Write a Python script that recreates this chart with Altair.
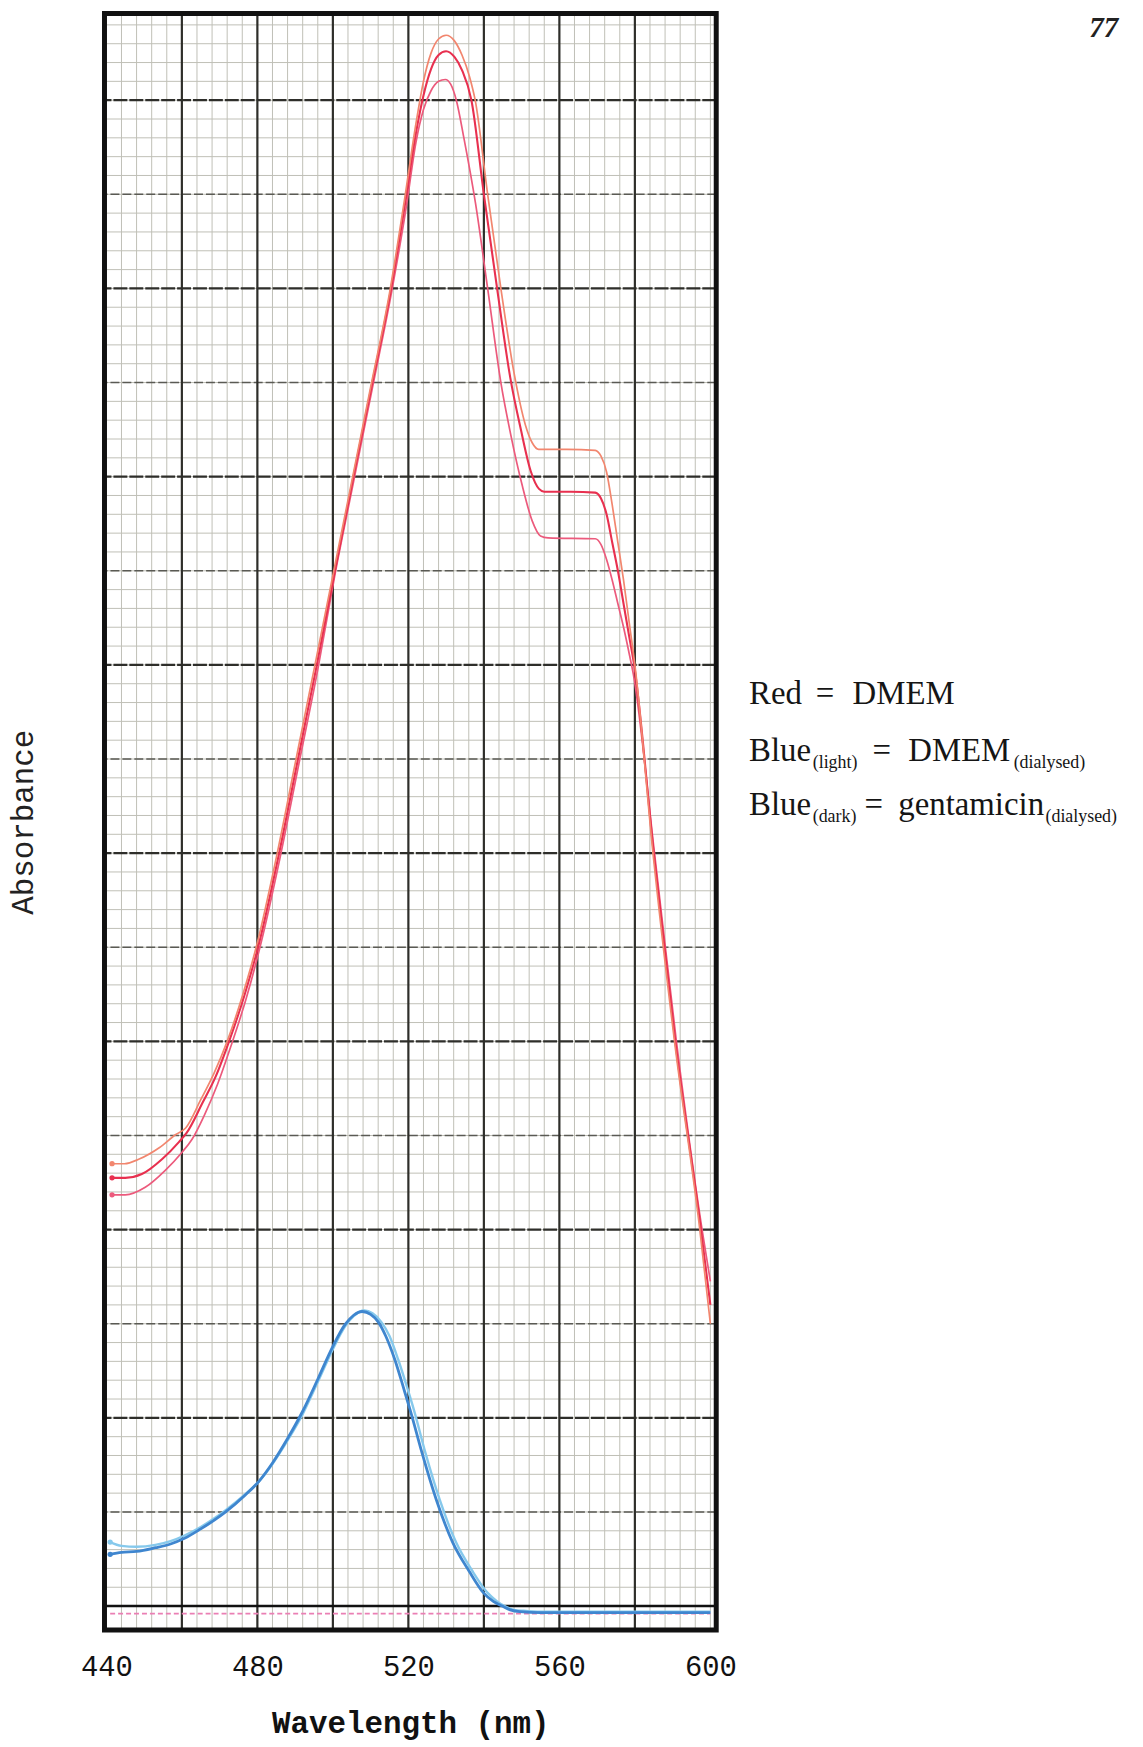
import altair as alt
import numpy as np
import pandas as pd

# ---------------- data ----------------
# Red = DMEM (three traces)
red_top_nm = [441.5, 444.8, 448.7, 454.0, 458.4, 461.0, 465.0, 468.5, 472.0, 476.0, 480.0, 485.0,
              490.0, 495.0, 500.0, 505.0, 510.0, 515.0, 519.0, 522.0, 524.0, 526.0, 528.0, 530.0,
              532.2, 534.2, 536.2, 537.7, 541.0, 544.5, 548.0, 551.0, 552.8, 554.5, 562.0, 569.5,
              571.0, 572.5, 574.0, 575.5, 577.0, 578.5, 580.0, 584.8, 590.5, 597.2, 600.0]
red_top_abs = [0.470, 0.470, 0.475, 0.487, 0.501, 0.508, 0.538, 0.566, 0.600, 0.648, 0.705, 0.795,
               0.895, 0.995, 1.095, 1.195, 1.295, 1.395, 1.495, 1.575, 1.620, 1.650, 1.665, 1.669,
               1.663, 1.648, 1.625, 1.600, 1.500, 1.400, 1.310, 1.255, 1.236, 1.229, 1.229, 1.228,
               1.222, 1.205, 1.170, 1.130, 1.090, 1.045, 1.000, 0.800, 0.600, 0.400, 0.300]

red_mid_nm = [441.5, 445.0, 449.4, 454.8, 459.2, 461.3, 465.5, 469.0, 472.5, 476.5, 480.5, 485.5,
              490.5, 495.5, 500.3, 505.2, 510.2, 515.2, 519.2, 522.0, 524.0, 526.0, 528.0, 530.0,
              532.2, 534.2, 536.7, 540.0, 543.5, 547.0, 549.8, 552.4, 554.6, 556.0, 563.0, 569.5,
              571.0, 572.5, 574.0, 575.5, 577.0, 578.5, 579.8, 585.0, 590.7, 597.5, 600.0]
red_mid_abs = [0.455, 0.455, 0.459, 0.475, 0.493, 0.503, 0.535, 0.563, 0.600, 0.648, 0.705, 0.795,
               0.895, 0.995, 1.095, 1.195, 1.295, 1.395, 1.492, 1.565, 1.605, 1.633, 1.648, 1.652,
               1.646, 1.632, 1.600, 1.500, 1.400, 1.305, 1.250, 1.206, 1.187, 1.184, 1.184, 1.183,
               1.177, 1.160, 1.130, 1.100, 1.065, 1.030, 1.000, 0.800, 0.600, 0.400, 0.320]

red_low_nm = [441.5, 445.0, 450.3, 455.6, 460.0, 462.7, 466.0, 469.5, 473.0, 477.0, 481.0, 486.0,
              491.0, 496.0, 500.5, 505.5, 510.5, 515.5, 519.5, 522.0, 524.0, 526.0, 528.0, 529.8,
              531.2, 532.7, 534.7, 537.8, 541.0, 544.5, 547.1, 550.2, 552.8, 555.0, 557.0, 569.5,
              571.0, 572.5, 574.0, 575.5, 577.0, 578.6, 579.6, 585.2, 591.0, 597.8, 600.0]
red_low_abs = [0.437, 0.437, 0.445, 0.463, 0.482, 0.496, 0.522, 0.555, 0.595, 0.645, 0.705, 0.795,
               0.895, 0.995, 1.095, 1.195, 1.295, 1.395, 1.488, 1.555, 1.590, 1.610, 1.620, 1.622,
               1.617, 1.600, 1.560, 1.490, 1.400, 1.300, 1.245, 1.190, 1.153, 1.137, 1.135, 1.134,
               1.128, 1.112, 1.090, 1.065, 1.040, 1.010, 0.990, 0.800, 0.600, 0.400, 0.345]

# Blue (dark) = gentamicin (dialysed)
blue_dark_nm = [441.0, 444.0, 448.0, 453.0, 457.0, 460.7, 465.0, 468.5, 471.6, 476.8, 480.3, 484.0,
                488.0, 492.0, 496.0, 500.0, 503.2, 505.5, 507.8, 510.0, 512.0, 514.0, 516.4, 519.0,
                520.5, 523.6, 527.4, 531.7, 536.1, 539.9, 542.5, 544.9, 547.0, 549.5, 555.0, 570.0,
                585.0, 600.0]
blue_dark_abs = [0.055, 0.057, 0.058, 0.062, 0.066, 0.072, 0.082, 0.091, 0.100, 0.118, 0.132, 0.152,
                 0.178, 0.207, 0.241, 0.276, 0.299, 0.309, 0.313, 0.310, 0.302, 0.287, 0.262, 0.228,
                 0.208, 0.163, 0.113, 0.068, 0.037, 0.014, 0.005, 0.000, -0.004, -0.006, -0.007, -0.007,
                 -0.007, -0.007]

# Blue (light) = DMEM (dialysed)
blue_light_nm = [441.0, 444.0, 448.0, 453.0, 457.0, 460.7, 465.0, 468.5, 471.6, 476.8, 480.3, 484.0,
                 488.0, 492.0, 496.0, 500.0, 503.2, 505.5, 508.3, 510.5, 512.8, 515.0, 517.3, 520.0,
                 521.5, 524.5, 528.3, 532.6, 537.0, 541.0, 543.5, 545.5, 548.0, 550.5, 555.0, 570.0,
                 585.0, 600.0]
blue_light_abs = [0.068, 0.064, 0.063, 0.065, 0.069, 0.075, 0.084, 0.093, 0.102, 0.119, 0.132, 0.151,
                  0.176, 0.204, 0.238, 0.273, 0.297, 0.308, 0.314, 0.311, 0.302, 0.287, 0.262, 0.228,
                  0.208, 0.163, 0.113, 0.068, 0.037, 0.014, 0.005, 0.000, -0.004, -0.005, -0.006, -0.006,
                  -0.006, -0.006]

# pen baseline trace
pink_base_nm = [441.0, 600.0]
pink_base_abs = [-0.008, -0.008]

x_ticks = [440, 480, 520, 560, 600]

# chart-paper grid
grid_fine_x = [float(v) for v in np.arange(440, 601, 4)]
grid_major_x = [460, 480, 500, 520, 540, 560, 580]
grid_fine_y = [round(float(v), 3) for v in np.arange(0.0, 1.69, 0.02)]
grid_mid_y = [0.1, 0.3, 0.5, 0.7, 0.9, 1.1, 1.3, 1.5]
grid_major_y = [0.2, 0.4, 0.6, 0.8, 1.0, 1.2, 1.4, 1.6]
grid_zero_y = [0.0]

# ---------------- chart ----------------
W, H = 615, 1625
xs = alt.Scale(domain=[439.5, 601.55], nice=False, zero=False)
ys = alt.Scale(domain=[-0.0254, 1.692], nice=False, zero=False)

x_axis = alt.Axis(values=x_ticks, grid=False, ticks=False, domain=False, labelFlush=False,
                  labelFont="Liberation Mono", labelFontSize=29, labelColor="#111111",
                  labelPadding=23, title="Wavelength (nm)", titleFont="Liberation Mono",
                  titleFontSize=31, titleFontWeight="bold", titleColor="#111111",
                  titleY=103, titleBaseline="alphabetic")
y_axis = alt.Axis(labels=False, ticks=False, domain=False, grid=False, title="Absorbance",
                  titleFont="Liberation Mono", titleFontSize=31, titleFontWeight="normal",
                  titleColor="#222222", titleX=-81, titleBaseline="middle")


def xenc():
    return alt.X("nm:Q", scale=xs, axis=x_axis)


def yenc():
    return alt.Y("A:Q", scale=ys, axis=y_axis)


vfine = alt.Chart(pd.DataFrame({"nm": grid_fine_x})).mark_rule(
    color="#c0c0b6", strokeWidth=1).encode(x=xenc())
hfine = alt.Chart(pd.DataFrame({"A": grid_fine_y})).mark_rule(
    color="#c0c0b6", strokeWidth=1).encode(y=yenc())
hmid = alt.Chart(pd.DataFrame({"A": grid_mid_y})).mark_rule(
    color="#5a5a54", strokeWidth=1.5, strokeDash=[9, 3]).encode(y=yenc())
hmajor = alt.Chart(pd.DataFrame({"A": grid_major_y})).mark_rule(
    color="#2e2e2a", strokeWidth=2.2, strokeDash=[14, 2]).encode(y=yenc())
vmajor = alt.Chart(pd.DataFrame({"nm": grid_major_x})).mark_rule(
    color="#2e2e2a", strokeWidth=2.2).encode(x=xenc())
hzero = alt.Chart(pd.DataFrame({"A": grid_zero_y})).mark_rule(
    color="#111111", strokeWidth=2.5).encode(y=yenc())

pink = alt.Chart(pd.DataFrame({"nm": pink_base_nm, "A": pink_base_abs})).mark_line(
    color="#ea7fb4", strokeWidth=1.6, strokeDash=[5, 3]).encode(x=xenc(), y=yenc())


def curve(nm, ab, color, width):
    df = pd.DataFrame({"nm": nm, "A": ab})
    line = alt.Chart(df).mark_line(color=color, strokeWidth=width, interpolate="monotone").encode(
        x=xenc(), y=yenc())
    dot = alt.Chart(df.iloc[[0]]).mark_point(filled=True, color=color, size=28, opacity=1).encode(
        x=xenc(), y=yenc())
    return [line, dot]


frame = alt.Chart(pd.DataFrame({"f": [0]})).mark_rect(
    fillOpacity=0, stroke="#111111", strokeWidth=5).encode(
    x=alt.value(0), x2=alt.value(W), y=alt.value(0), y2=alt.value(H))

layers = [vfine, hfine, hmid, hmajor, vmajor, hzero, pink]
layers += curve(blue_light_nm, blue_light_abs, "#86c9ec", 2.4)
layers += curve(blue_dark_nm, blue_dark_abs, "#3f86cf", 2.8)
layers += curve(red_low_nm, red_low_abs, "#ec5a7c", 1.7)
layers += curve(red_mid_nm, red_mid_abs, "#e8304f", 2.1)
layers += curve(red_top_nm, red_top_abs, "#f2866e", 1.7)
layers.append(frame)

# legend text (annotation) pieces: text, x, y (plot pixels), size
legend_pieces = [
    ("Red", 648, 694, 33), ("=", 715, 694, 33), ("DMEM", 752, 694, 33),
    ("Blue", 648, 751, 33), ("(light)", 712, 758, 18), ("=", 772, 751, 33),
    ("DMEM", 808, 751, 33), ("(dialysed)", 914, 758, 18),
    ("Blue", 648, 806, 33), ("(dark)", 712, 813, 18), ("=", 764, 806, 33),
    ("gentamicin", 798, 806, 33), ("(dialysed)", 946, 813, 18),
]
for txt, px, py, fs in legend_pieces:
    layers.append(
        alt.Chart(pd.DataFrame({"t": [txt]})).mark_text(
            font="Liberation Serif", fontSize=fs, align="left", baseline="alphabetic",
            color="#151515").encode(text="t:N", x=alt.value(px), y=alt.value(py))
    )

layers.append(
    alt.Chart(pd.DataFrame({"t": ["77"]})).mark_text(
        font="Liberation Serif", fontSize=29, fontWeight="bold", fontStyle="italic",
        align="left", baseline="top", color="#222222").encode(
        text="t:N", x=alt.value(990), y=alt.value(1))
)

chart = alt.layer(*layers).properties(
    width=W, height=H,
    autosize=alt.AutoSizeParams(type="none"),
    padding={"left": 97, "top": 1, "right": 421, "bottom": 110},
).configure_view(stroke=None, fill="#fdfdf9").configure(background="white")

chart.save("out.html", embed_options={"renderer": "svg", "actions": False})
